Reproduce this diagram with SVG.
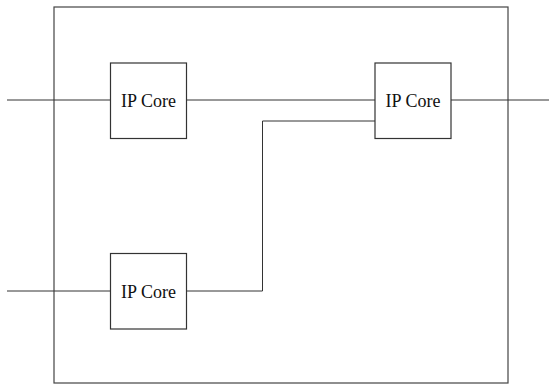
<svg xmlns="http://www.w3.org/2000/svg" width="551" height="385" viewBox="0 0 551 385">
<style>
.frame{fill:none;stroke:#444;stroke-width:1.2}
.box{fill:#fff;stroke:#333;stroke-width:1.2}
.wire{fill:none;stroke:#333;stroke-width:1}
.lbl{font-family:"Liberation Serif","Times New Roman",serif;font-size:18px;fill:#111;text-anchor:middle}
</style>
<rect width="551" height="385" fill="#fff"/>
<rect id="frame" class="frame" x="54" y="7" width="454" height="376"/>
<g id="connectors">
<line class="wire" x1="7" y1="100" x2="110.5" y2="100"/>
<line class="wire" x1="186.5" y1="100" x2="375" y2="100"/>
<line class="wire" x1="451" y1="100" x2="549" y2="100"/>
<line class="wire" x1="7" y1="291" x2="110.5" y2="291"/>
<polyline class="wire" points="186.5,291 262.5,291 262.5,121 375,121"/>
</g>
<g id="core1"><rect class="box" x="110.5" y="63" width="76" height="75.5"/><text class="lbl" x="148.5" y="107" font-family="Liberation Serif, serif">IP Core</text></g>
<g id="core2"><rect class="box" x="375" y="63" width="76" height="75.5"/><text class="lbl" x="413" y="107" font-family="Liberation Serif, serif">IP Core</text></g>
<g id="core3"><rect class="box" x="110.5" y="253.5" width="76" height="75.5"/><text class="lbl" x="148.5" y="298" font-family="Liberation Serif, serif">IP Core</text></g>
</svg>
